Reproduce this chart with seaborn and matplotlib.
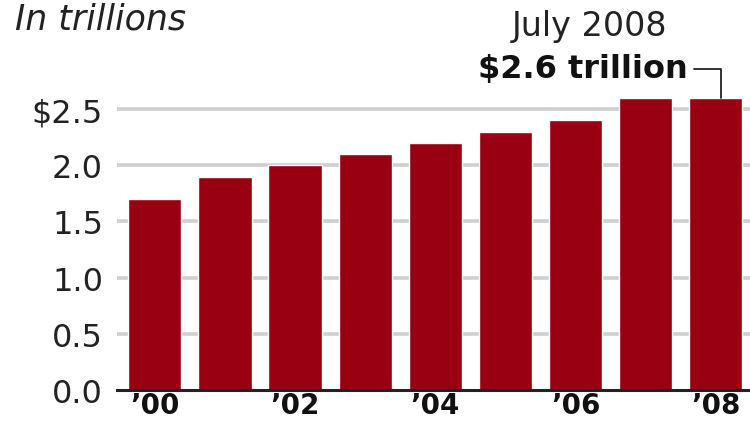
import matplotlib
matplotlib.use("Agg")
import matplotlib.pyplot as plt
import seaborn as sns
import pandas as pd

years = ["\u201900", "\u201901", "\u201902", "\u201903", "\u201904",
         "\u201905", "\u201906", "\u201907", "\u201908"]
values = [1.7, 1.9, 2.0, 2.1, 2.2, 2.3, 2.4, 2.6, 2.6]
yticks = [0.0, 0.5, 1.0, 1.5, 2.0, 2.5]
ytick_labels = ["0.0", "0.5", "1.0", "1.5", "2.0", "\\$2.5"]
shown_x = ["\u201900", "\u201902", "\u201904", "\u201906", "\u201908"]

sns.set_theme(style="white")
plt.rcParams['font.family'] = ['DejaVu Sans']

df = pd.DataFrame({"year": years, "value": values})

fig = plt.figure(figsize=(7.5, 4.27), dpi=100)
ax = fig.add_axes([0.156, 0.0843, 0.844, 0.9157])

for y in yticks[1:]:
    ax.axhline(y, color="#cfcfcf", lw=2.6, zorder=0)

sns.barplot(data=df, x="year", y="value", color="#990012", width=0.76,
            saturation=1, ax=ax, zorder=2)

ax.set_xlim(-0.54, 8.49)
ax.set_ylim(0, 3.48)
ax.set_yticks(yticks)
ax.set_yticklabels(ytick_labels, fontsize=23, color="#222222")
ax.set_xticks(range(len(years)))
ax.set_xticklabels([y if y in shown_x else "" for y in years],
                   fontsize=20, fontweight="bold", color="#111111")
ax.tick_params(axis="both", length=0)
ax.tick_params(axis="y", pad=10)
ax.tick_params(axis="x", pad=1)
ax.set_xlabel("")
ax.set_ylabel("")
for s in ["top", "right", "left"]:
    ax.spines[s].set_visible(False)
ax.spines["bottom"].set_color("#222222")
ax.spines["bottom"].set_linewidth(2.2)
ax.spines["bottom"].set_zorder(3)

fig.text(0.02, 0.955, "In trillions", fontsize=25, style="italic",
         color="#222222", ha="left", va="center")

ax.text(6.2, 3.24, "July 2008", fontsize=24, ha="center", va="center",
        color="#222222")
ax.annotate("\\$2.6 trillion", xy=(8.08, values[-1]), xytext=(7.6, 2.86),
            ha="right", va="center", fontsize=23, fontweight="bold",
            color="#111111",
            arrowprops=dict(arrowstyle="-", color="#222222", lw=1.3,
                            shrinkA=2, shrinkB=0,
                            connectionstyle="angle,angleA=0,angleB=90,rad=0"))

fig.savefig("out.png", dpi=100)
